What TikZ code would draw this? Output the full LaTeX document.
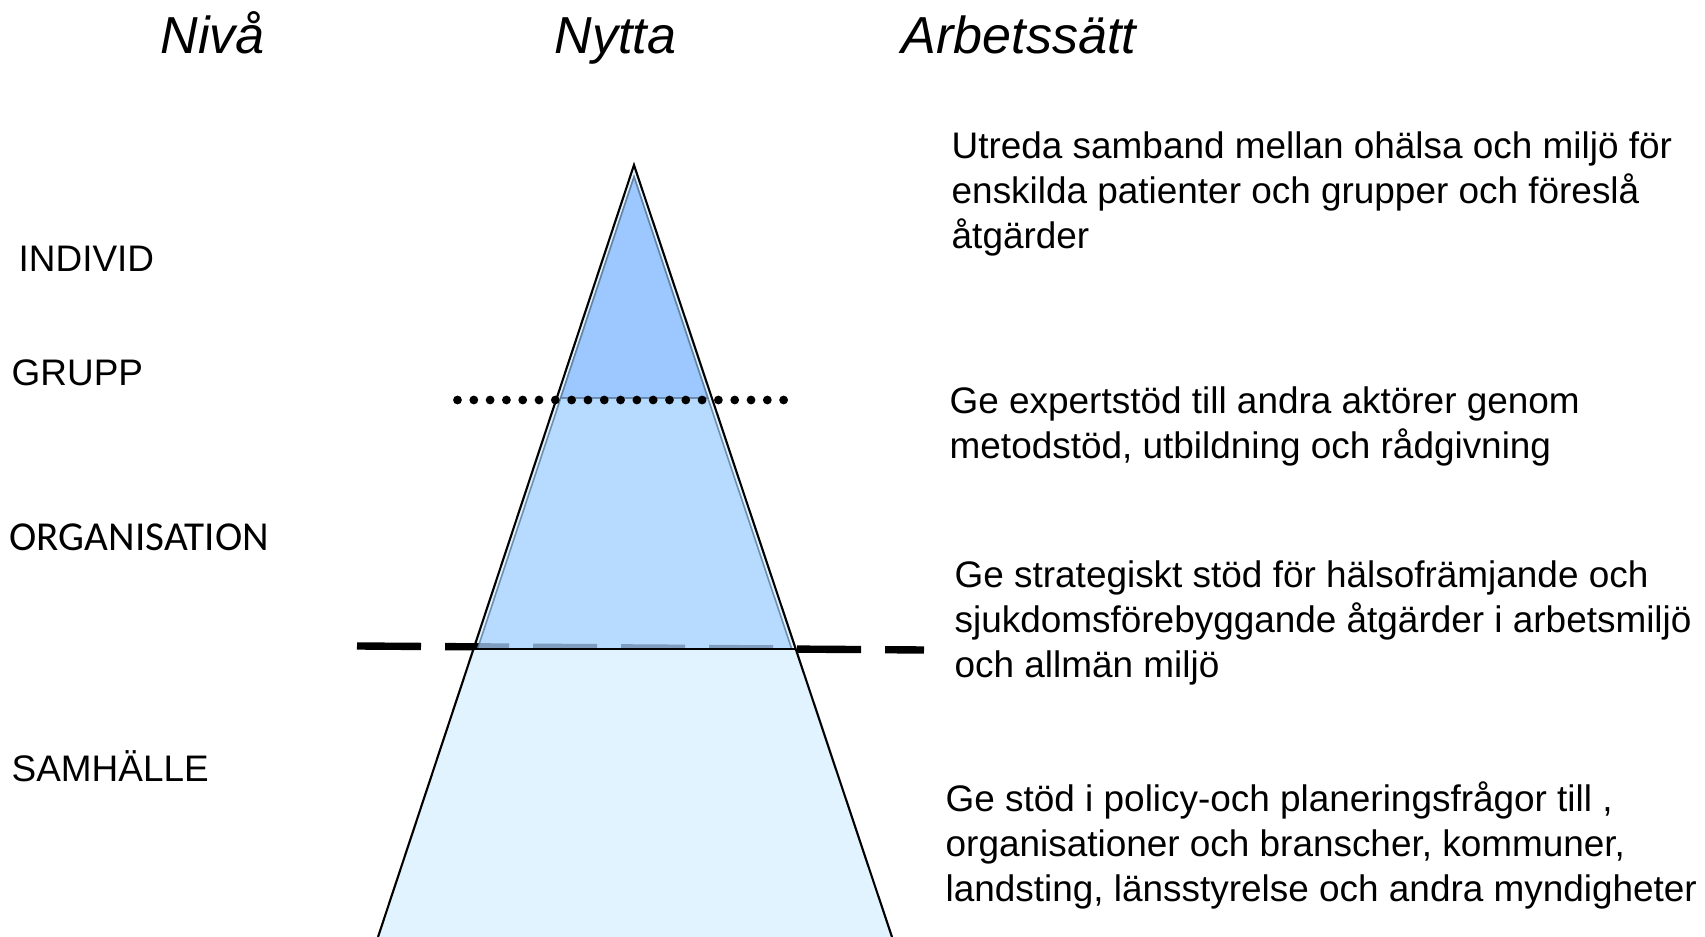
\documentclass[tikz,border=0pt]{standalone}
\usepackage{fontspec}
\setmainfont{Liberation Sans}
\newfontfamily\carlito{Carlito}
\usetikzlibrary{positioning}
\definecolor{paleblue}{HTML}{E0F3FF}
\definecolor{midblue}{HTML}{AAD2FF}
\definecolor{topblue}{HTML}{9DC8FF}
\definecolor{edgegray}{HTML}{5A7A99}

\begin{document}
\begin{tikzpicture}[x=0.01cm, y=-0.01cm,
      head/.style={anchor=base west, inner sep=0pt, font=\fontsize{14.8}{17}\selectfont\itshape},
      level/.style={anchor=base west, inner sep=0pt, font=\fontsize{10.5}{12.8}\selectfont},
      work/.style={anchor=base west, inner sep=0pt, align=left, font=\fontsize{10.5}{12.8}\selectfont},
      layer/.style={draw=edgegray, draw opacity=0.8, line width=0.45pt}
      ]
      \useasboundingbox (0,0) rectangle (1705,937);
      % pyramid corners
      \coordinate (apex) at (634,165);
      \coordinate (bl) at (378,937);
      \coordinate (br) at (892,937);
      \coordinate (ml) at (474,649);
      \coordinate (mr) at (796,649);
      \coordinate (iapex) at (634,177);
      \coordinate (iml) at (477.5,649);
      \coordinate (imr) at (791.7,649);
      \coordinate (itl) at (560.7,398);
      \coordinate (itr) at (707.8,398);
      \coordinate (dashL) at (357,646);
      \coordinate (dashR) at (924,650);
      \coordinate (dotL) at (457.5,400);
      \coordinate (dotR) at (786,400);
      % fills
      \fill[paleblue] (apex) -- (ml) -- (mr) -- cycle;
      \draw[line width=2.1pt, dash pattern=on 18.2pt off 6.83pt] (dashL) -- (dashR);
      \fill[paleblue] (ml) -- (bl) -- (br) -- (mr) -- cycle;
      \filldraw[layer, fill=midblue, fill opacity=0.75] (iapex) -- (iml) -- (imr) -- cycle;
      \filldraw[layer, fill=topblue] (iapex) -- (itl) -- (itr) -- cycle;
      \draw[line width=0.6pt] (bl) -- (apex) -- (br);
      \draw[line width=0.6pt] (ml) -- (mr);
      \draw[line width=2.5pt, line cap=round, dash pattern=on 0pt off 4.637pt] (dotL) -- (dotR);
      % headings
      \node[head] (niva) at (160,54) {Nivå};
      \node[head] (nytta) at (554,54) {Nytta};
      \node[head] (arbetssatt) at (901,54) {Arbetssätt};
      % levels
      \node[level] (individ) at (18,272) {INDIVID};
      \node[level] (grupp) at (11,386) {GRUPP};
      \node[level, font=\fontsize{11.7}{14}\selectfont\carlito] (organisation) at (9,551) {ORGANISATION};
      \node[level] (samhalle) at (11,782) {SAMHÄLLE};
      % ways of working (anchored at last line)
      \node[work] (wIndivid) at (951,249) {Utreda samband mellan ohälsa och miljö för\\enskilda patienter och grupper och föreslå\\åtgärder};
      \node[work] (wGrupp) at (949,459) {Ge expertstöd till andra aktörer genom\\metodstöd, utbildning och rådgivning};
      \node[work] (wOrg) at (954,678) {Ge strategiskt stöd för hälsofrämjande och\\sjukdomsförebyggande åtgärder i arbetsmiljö\\och allmän miljö};
      \node[work] (wSamhalle) at (945,902) {Ge stöd i policy-och planeringsfrågor till ,\\organisationer och branscher, kommuner,\\landsting, länsstyrelse och andra myndigheter};
    \end{tikzpicture}
\end{document}
